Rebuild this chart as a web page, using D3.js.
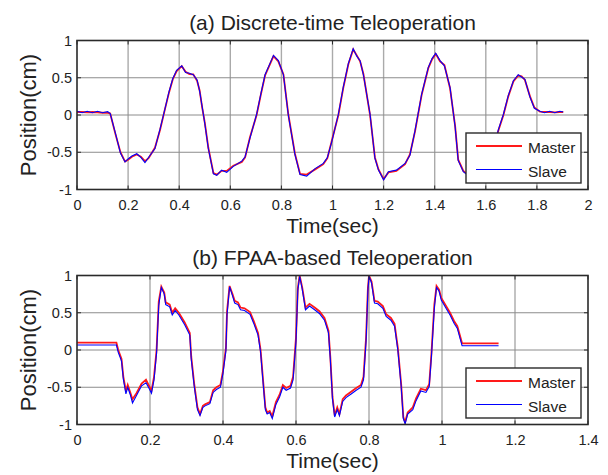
<!DOCTYPE html>
<html>
<head>
<meta charset="utf-8">
<script src="https://cdn.jsdelivr.net/npm/d3@7/dist/d3.min.js"></script>
<style>
body { margin: 0; background: #fff; }
text { font-family: "Liberation Sans", Arial, sans-serif; fill: #222; }
.gridx line { stroke: #aaaaaa; stroke-width: 1.4; }
.gridy line { stroke: #8c8c8c; stroke-width: 1; }
.frame { fill: none; stroke: #2a2a2a; stroke-width: 1.6; }
.tick-in { stroke: #2a2a2a; stroke-width: 1; }
.master { fill: none; stroke: #ff1a1a; stroke-width: 1.8; }
.slave { fill: none; stroke: #0000ff; stroke-width: 1.1; }
</style>
</head>
<body>
<svg id="chart" width="608" height="475"></svg>
<script>
// (a) discrete-time teleoperation
var timeA   = [0, 0.02, 0.04, 0.06, 0.08, 0.10, 0.12, 0.13, 0.15, 0.17, 0.188, 0.20, 0.215, 0.234, 0.25, 0.266, 0.28, 0.305, 0.325, 0.344, 0.36, 0.375, 0.39, 0.41, 0.425, 0.44, 0.455, 0.47, 0.48, 0.49, 0.50, 0.514, 0.534, 0.547, 0.566, 0.586, 0.612, 0.645, 0.658, 0.677, 0.703, 0.72, 0.736, 0.755, 0.769, 0.788, 0.808, 0.827, 0.853, 0.873, 0.899, 0.932, 0.964, 0.98, 0.997, 1.023, 1.042, 1.062, 1.081, 1.095, 1.108, 1.121, 1.147, 1.166, 1.18, 1.20, 1.219, 1.25, 1.284, 1.303, 1.323, 1.349, 1.375, 1.39, 1.404, 1.421, 1.438, 1.46, 1.48, 1.492, 1.512, 1.53, 1.55, 1.58, 1.61, 1.63, 1.649, 1.669, 1.688, 1.708, 1.727, 1.74, 1.753, 1.773, 1.79, 1.812, 1.83, 1.85, 1.87, 1.89, 1.903];
var masterA = [0.04, 0.04, 0.035, 0.04, 0.035, 0.03, 0.03, 0.02, -0.25, -0.5, -0.625, -0.6, -0.56, -0.53, -0.56, -0.62, -0.58, -0.44, -0.2, 0.075, 0.3, 0.48, 0.59, 0.655, 0.58, 0.55, 0.545, 0.46, 0.33, 0.1, -0.1, -0.44, -0.78, -0.8, -0.75, -0.75, -0.68, -0.63, -0.57, -0.3, 0.0, 0.28, 0.53, 0.68, 0.79, 0.72, 0.545, 0.01, -0.52, -0.79, -0.8, -0.73, -0.66, -0.58, -0.35, 0.0, 0.36, 0.68, 0.88, 0.8, 0.72, 0.55, 0.0, -0.57, -0.73, -0.86, -0.77, -0.75, -0.66, -0.53, -0.22, 0.27, 0.63, 0.75, 0.82, 0.72, 0.67, 0.36, -0.15, -0.6, -0.75, -0.8, -0.82, -0.78, -0.65, -0.45, -0.21, 0.0, 0.25, 0.45, 0.53, 0.52, 0.47, 0.25, 0.1, 0.045, 0.04, 0.04, 0.035, 0.04, 0.04];
var slaveA  = [0.05, 0.03, 0.05, 0.03, 0.05, 0.03, 0.045, 0.02, -0.24, -0.51, -0.63, -0.59, -0.55, -0.52, -0.57, -0.64, -0.57, -0.45, -0.19, 0.08, 0.31, 0.49, 0.6, 0.66, 0.57, 0.56, 0.54, 0.47, 0.32, 0.11, -0.11, -0.45, -0.79, -0.81, -0.74, -0.77, -0.69, -0.62, -0.56, -0.31, 0.01, 0.29, 0.54, 0.69, 0.8, 0.73, 0.54, 0.0, -0.53, -0.8, -0.82, -0.72, -0.65, -0.57, -0.36, 0.01, 0.37, 0.69, 0.89, 0.79, 0.73, 0.54, 0.01, -0.58, -0.74, -0.87, -0.76, -0.74, -0.65, -0.54, -0.21, 0.28, 0.64, 0.76, 0.83, 0.73, 0.66, 0.37, -0.16, -0.61, -0.76, -0.81, -0.83, -0.77, -0.66, -0.44, -0.2, 0.01, 0.26, 0.46, 0.54, 0.51, 0.48, 0.24, 0.09, 0.05, 0.03, 0.05, 0.03, 0.05, 0.04];

// (b) FPAA-based teleoperation
var timeB   = [0, 0.108, 0.113, 0.122, 0.127, 0.134, 0.139, 0.146, 0.152, 0.163, 0.177, 0.189, 0.198, 0.204, 0.211, 0.218, 0.224, 0.231, 0.239, 0.243, 0.254, 0.261, 0.269, 0.279, 0.295, 0.309, 0.313, 0.321, 0.33, 0.337, 0.345, 0.351, 0.364, 0.373, 0.382, 0.393, 0.4, 0.408, 0.411, 0.418, 0.426, 0.432, 0.441, 0.448, 0.459, 0.474, 0.484, 0.496, 0.503, 0.509, 0.516, 0.521, 0.528, 0.535, 0.545, 0.555, 0.564, 0.573, 0.585, 0.592, 0.6, 0.605, 0.61, 0.617, 0.626, 0.637, 0.651, 0.664, 0.678, 0.689, 0.694, 0.7, 0.706, 0.713, 0.719, 0.728, 0.737, 0.751, 0.765, 0.778, 0.785, 0.792, 0.797, 0.8, 0.807, 0.815, 0.824, 0.838, 0.847, 0.86, 0.87, 0.879, 0.888, 0.894, 0.899, 0.906, 0.92, 0.929, 0.942, 0.956, 0.965, 0.971, 0.979, 0.985, 0.992, 0.998, 1.011, 1.022, 1.033, 1.042, 1.055, 1.155];
var masterB = [0.1, 0.1, 0.0, -0.12, -0.36, -0.55, -0.47, -0.57, -0.66, -0.58, -0.45, -0.4, -0.49, -0.55, -0.36, 0.0, 0.65, 0.85, 0.77, 0.64, 0.61, 0.5, 0.56, 0.5, 0.37, 0.23, -0.09, -0.45, -0.77, -0.86, -0.75, -0.73, -0.7, -0.54, -0.5, -0.47, -0.28, 0.03, 0.52, 0.86, 0.75, 0.66, 0.64, 0.57, 0.56, 0.51, 0.39, 0.23, 0.0, -0.36, -0.77, -0.84, -0.82, -0.89, -0.7, -0.6, -0.47, -0.51, -0.48, -0.36, 0.17, 0.83, 1.0, 0.84, 0.57, 0.62, 0.57, 0.52, 0.43, 0.26, -0.09, -0.63, -0.88, -0.77, -0.86, -0.66, -0.61, -0.56, -0.51, -0.47, -0.36, 0.17, 0.83, 1.0, 0.92, 0.66, 0.65, 0.59, 0.48, 0.43, 0.35, 0.03, -0.45, -0.9, -0.97, -0.84, -0.77, -0.65, -0.52, -0.54, -0.46, -0.05, 0.61, 0.86, 0.81, 0.7, 0.59, 0.5, 0.39, 0.32, 0.09, 0.09];
var slaveB  = [0.067, 0.067, -0.03, -0.15, -0.39, -0.59, -0.5, -0.6, -0.71, -0.61, -0.48, -0.44, -0.52, -0.58, -0.4, -0.04, 0.6, 0.84, 0.75, 0.61, 0.58, 0.47, 0.53, 0.47, 0.34, 0.2, -0.12, -0.48, -0.8, -0.88, -0.77, -0.75, -0.72, -0.57, -0.53, -0.5, -0.31, -0.01, 0.47, 0.85, 0.73, 0.63, 0.61, 0.54, 0.53, 0.48, 0.36, 0.2, -0.03, -0.39, -0.8, -0.86, -0.84, -0.92, -0.73, -0.63, -0.5, -0.54, -0.51, -0.4, 0.12, 0.8, 0.99, 0.82, 0.54, 0.59, 0.54, 0.49, 0.4, 0.23, -0.12, -0.66, -0.9, -0.8, -0.88, -0.69, -0.64, -0.59, -0.54, -0.5, -0.4, 0.12, 0.8, 0.99, 0.9, 0.63, 0.62, 0.56, 0.45, 0.4, 0.32, 0.0, -0.48, -0.92, -0.99, -0.86, -0.8, -0.68, -0.55, -0.57, -0.49, -0.09, 0.56, 0.84, 0.79, 0.67, 0.56, 0.47, 0.36, 0.29, 0.058, 0.058];

var titles      = ["(a) Discrete-time Teleoperation", "(b) FPAA-based Teleoperation"];
var xTicksA     = [0, 0.2, 0.4, 0.6, 0.8, 1, 1.2, 1.4, 1.6, 1.8, 2];
var xTicksB     = [0, 0.2, 0.4, 0.6, 0.8, 1, 1.2, 1.4];
var yTicks      = [-1, -0.5, 0, 0.5, 1];
var legendNames = ["Master", "Slave"];
var xLabel      = "Time(sec)";
var yLabel      = "Position(cm)";

var svg = d3.select("#chart");
var left = 77, right = 588, plotH = 149;

function fmt(v) { return String(v); }

function drawPanel(id, top, title, time, master, slave, xTicks) {
	var g = svg.append("g").attr("transform", "translate(0," + top + ")");
	var w = right - left;

	var x = d3.scaleLinear().domain([xTicks[0], xTicks[xTicks.length - 1]]).range([left, right]);
	var y = d3.scaleLinear().domain([-1, 1]).range([plotH, 0]);

	// grid
	g.append("g").attr("class", "gridx")
		.selectAll("line").data(xTicks.slice(1, -1)).enter().append("line")
		.attr("x1", function(d) { return x(d); }).attr("x2", function(d) { return x(d); })
		.attr("y1", 0).attr("y2", plotH);
	g.append("g").attr("class", "gridy")
		.selectAll("line").data(yTicks.slice(1, -1)).enter().append("line")
		.attr("x1", left).attr("x2", right)
		.attr("y1", function(d) { return y(d); }).attr("y2", function(d) { return y(d); });

	// data
	g.append("clipPath").attr("id", "clip" + id)
		.append("rect").attr("x", left).attr("y", 0).attr("width", w).attr("height", plotH);

	var line = d3.line()
		.x(function(d, i) { return x(time[i]); })
		.y(function(d) { return y(d); });

	var lines = g.append("g").attr("clip-path", "url(#clip" + id + ")");
	lines.append("path").datum(master).attr("class", "master").attr("d", line);
	lines.append("path").datum(slave).attr("class", "slave").attr("d", line);

	// axes (matlab-style box with inward ticks)
	var xAxis = d3.axisBottom(x).tickValues(xTicks).tickFormat(fmt).tickSize(0).tickPadding(7);
	var yAxis = d3.axisLeft(y).tickValues(yTicks).tickFormat(fmt).tickSize(0).tickPadding(5);
	var xg = g.append("g").attr("transform", "translate(0," + plotH + ")").call(xAxis);
	var yg = g.append("g").attr("transform", "translate(" + left + ",0)").call(yAxis);
	xg.select(".domain").remove();
	yg.select(".domain").remove();
	xg.selectAll("text").style("font-size", "14.5px").attr("dy", "0.95em");
	yg.selectAll("text").style("font-size", "14.5px");

	var tk = g.append("g");
	xTicks.forEach(function(d) {
		tk.append("line").attr("class", "tick-in").attr("x1", x(d)).attr("x2", x(d)).attr("y1", plotH).attr("y2", plotH - 4);
		tk.append("line").attr("class", "tick-in").attr("x1", x(d)).attr("x2", x(d)).attr("y1", 0).attr("y2", 4);
	});
	yTicks.forEach(function(d) {
		tk.append("line").attr("class", "tick-in").attr("x1", left).attr("x2", left + 4).attr("y1", y(d)).attr("y2", y(d));
		tk.append("line").attr("class", "tick-in").attr("x1", right).attr("x2", right - 4).attr("y1", y(d)).attr("y2", y(d));
	});

	g.append("rect").attr("class", "frame").attr("x", left).attr("y", 0).attr("width", w).attr("height", plotH);

	// labels
	g.append("text").attr("x", (left + right) / 2).attr("y", -10.5)
		.attr("text-anchor", "middle").style("font-size", "21px").text(title);
	g.append("text").attr("x", (left + right) / 2).attr("y", plotH + 43.5)
		.attr("text-anchor", "middle").style("font-size", "21px").text(xLabel);
	g.append("text").attr("transform", "translate(36," + (plotH / 2) + ") rotate(-90)")
		.attr("text-anchor", "middle").style("font-size", "22px").text(yLabel);

	// legend
	var lg = g.append("g").attr("transform", "translate(466,92.5)");
	lg.append("rect").attr("width", 115).attr("height", 50)
		.attr("fill", "#fff").attr("stroke", "#2a2a2a").attr("stroke-width", 1.4);
	legendNames.forEach(function(name, i) {
		lg.append("line").attr("class", i == 0 ? "master" : "slave")
			.attr("x1", 10).attr("x2", 56).attr("y1", 13 + i * 23.5).attr("y2", 13 + i * 23.5);
		lg.append("text").attr("x", 62).attr("y", 20 + i * 23.5)
			.style("font-size", "15.5px").text(name);
	});
}

drawPanel("a", 40.5, titles[0], timeA, masterA, slaveA, xTicksA);
drawPanel("b", 275.5, titles[1], timeB, masterB, slaveB, xTicksB);
</script>
</body>
</html>
